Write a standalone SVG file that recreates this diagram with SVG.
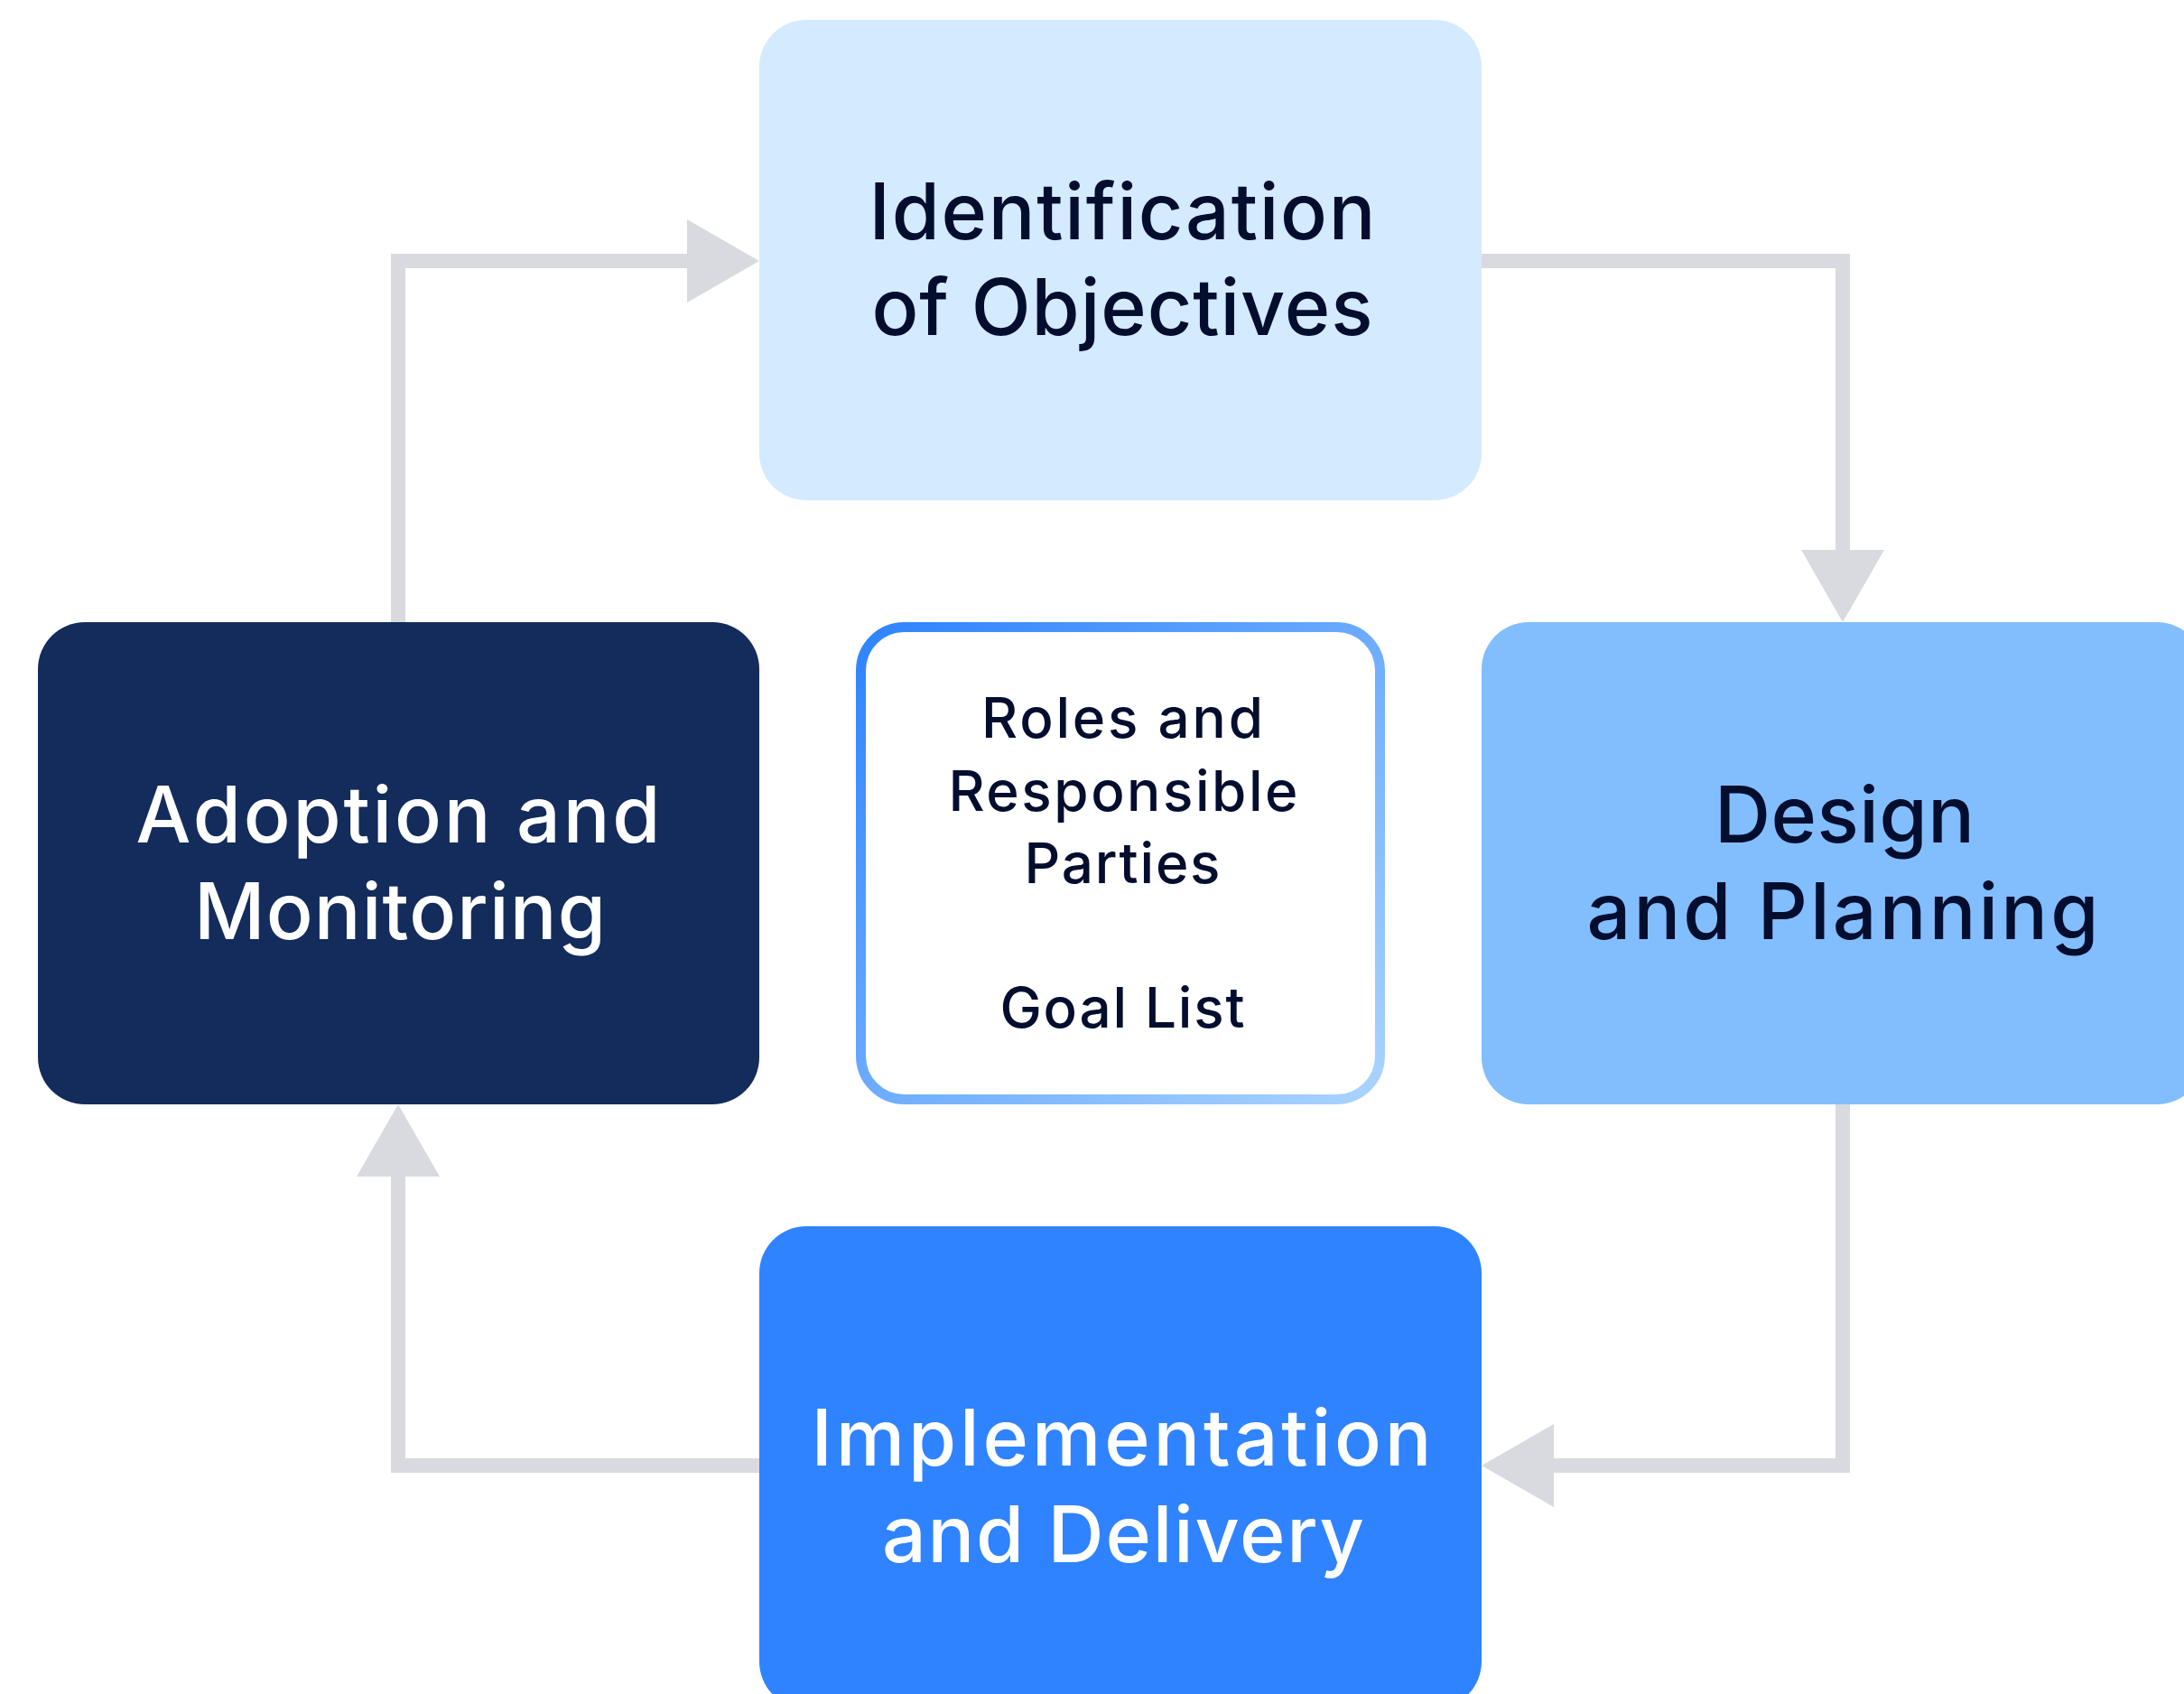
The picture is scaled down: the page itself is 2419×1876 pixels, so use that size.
<svg xmlns="http://www.w3.org/2000/svg" width="2419" height="1876" viewBox="0 0 2419 1876">
<style>
.lbl{font-family:"Inter","Noto Sans","DejaVu Sans",sans-serif;font-weight:500;text-anchor:middle}
.big{font-size:86px}
.small{font-size:62px}
.dark{fill:#030D2E}
.light{fill:#FFFFFF}
.conn{fill:none;stroke:#D9DAE0;stroke-width:16;stroke-linejoin:miter}
</style>
<defs>
<marker id="arr" markerUnits="userSpaceOnUse" markerWidth="80" markerHeight="92" viewBox="0 0 80 92" refX="0" refY="46" orient="auto">
<polygon points="0,0 80,46 0,92" fill="#D9DAE0"/>
</marker>
<linearGradient id="grad" x1="0" y1="0" x2="1" y2="1">
<stop offset="0" stop-color="#2E83FF"/>
<stop offset="1" stop-color="#AAD4FF"/>
</linearGradient>
</defs>
<rect width="2419" height="1876" fill="#FFFFFF"/>
<g id="connectors">
<path class="conn" d="M441 689 V289 H761" marker-end="url(#arr)"/>
<path class="conn" d="M1641 289 H2041 V609" marker-end="url(#arr)"/>
<path class="conn" d="M2041 1223 V1623 H1721" marker-end="url(#arr)"/>
<path class="conn" d="M841 1623 H441 V1303" marker-end="url(#arr)"/>
</g>
<g id="identification">
<rect x="841" y="22" width="800" height="532" rx="52" fill="#D4EAFE"/>
<text class="lbl big dark" x="1243" y="265" textLength="561" lengthAdjust="spacing">Identification</text>
<text class="lbl big dark" x="1243" y="371" textLength="555" lengthAdjust="spacing">of Objectives</text>
</g>
<g id="adoption">
<rect x="42" y="689" width="799" height="534" rx="52" fill="#132C5C"/>
<text class="lbl big light" x="441" y="933" textLength="581" lengthAdjust="spacing">Adoption and</text>
<text class="lbl big light" x="443" y="1040" textLength="456" lengthAdjust="spacing">Monitoring</text>
</g>
<g id="design">
<rect x="1641" y="689" width="800" height="534" rx="52" fill="#82BEFD"/>
<text class="lbl big dark" x="2043" y="933" textLength="288" lengthAdjust="spacing">Design</text>
<text class="lbl big dark" x="2041" y="1040" textLength="567" lengthAdjust="spacing">and Planning</text>
</g>
<g id="implementation">
<rect x="841" y="1358" width="800" height="534" rx="52" fill="#2F83FF"/>
<text class="lbl big light" x="1242" y="1623" textLength="687" lengthAdjust="spacing">Implementation</text>
<text class="lbl big light" x="1244" y="1730" textLength="534" lengthAdjust="spacing">and Delivery</text>
</g>
<g id="center">
<rect x="953.5" y="694.5" width="575" height="523" rx="48" fill="#FFFFFF" stroke="url(#grad)" stroke-width="11"/>
<text class="lbl small dark" x="1243" y="817" textLength="312" lengthAdjust="spacing">Roles and</text>
<text class="lbl small dark" x="1244" y="898" textLength="387" lengthAdjust="spacing">Responsible</text>
<text class="lbl small dark" x="1243" y="978" textLength="217" lengthAdjust="spacing">Parties</text>
<text class="lbl small dark" x="1243" y="1138" textLength="271" lengthAdjust="spacing">Goal List</text>
</g>
</svg>
